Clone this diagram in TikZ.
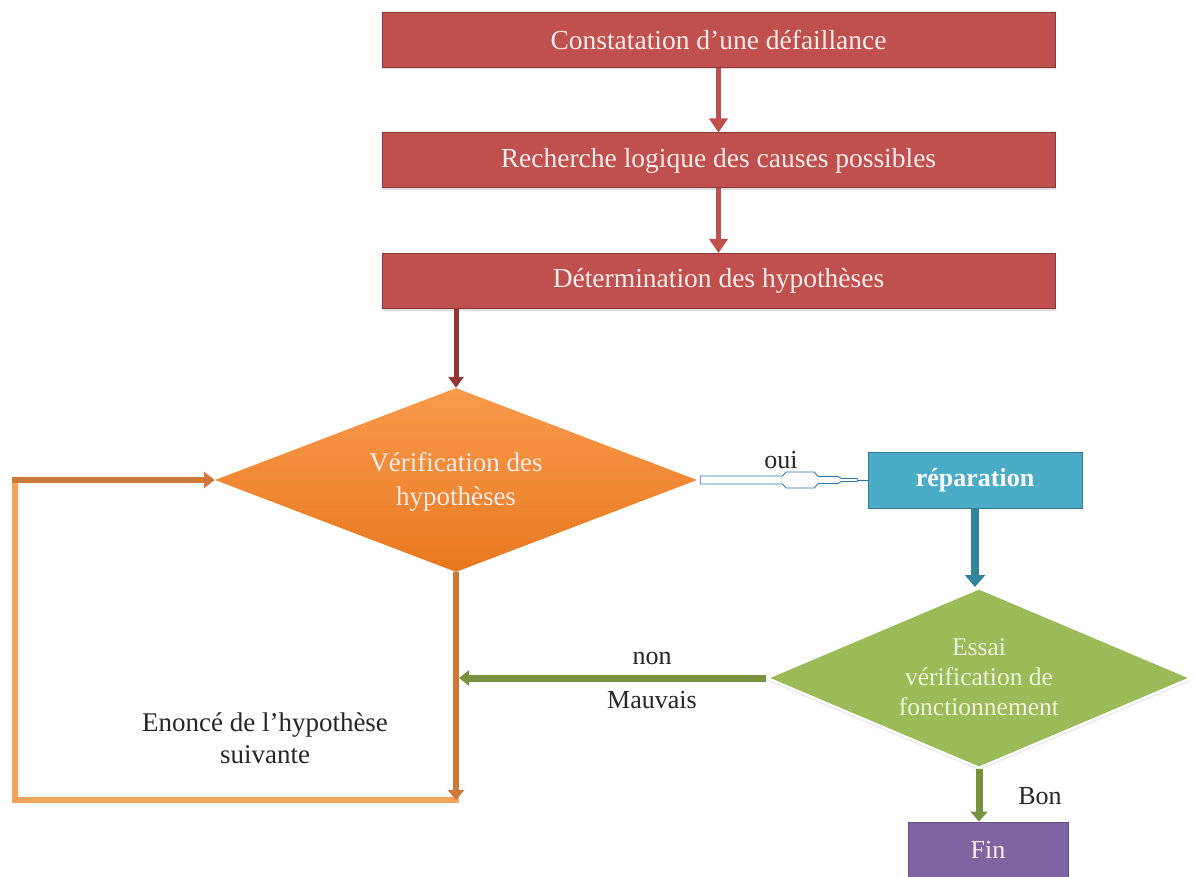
\documentclass[tikz,border=0pt]{standalone}
\usepackage{fontspec}
\setmainfont{Liberation Serif}
\usetikzlibrary{shapes.geometric,arrows.meta,calc,shadows}

\definecolor{redfill}{HTML}{C0504D}
\definecolor{redline}{HTML}{8C3836}
\definecolor{redarrow}{HTML}{C0504D}
\definecolor{darkred}{HTML}{943634}
\definecolor{orangetop}{HTML}{F99A4C}
\definecolor{orangebot}{HTML}{E8781F}
\definecolor{loopdarkc}{HTML}{CC7838}
\definecolor{looplightc}{HTML}{F2A45C}
\definecolor{greenfill}{HTML}{9BBB59}
\definecolor{greenline}{HTML}{76923C}
\definecolor{greentext}{HTML}{EEF4DC}
\definecolor{bluefill}{HTML}{4BACC6}
\definecolor{blueline}{HTML}{357D91}
\definecolor{tealarrow}{HTML}{31849B}
\definecolor{hollowblue}{HTML}{2E75B6}
\definecolor{purplefill}{HTML}{8064A2}
\definecolor{lighttext}{HTML}{FBEDEC}

\tikzset{
  redbox/.style={draw=redline, line width=1pt, fill=redfill, minimum width=673pt,
    minimum height=55pt, inner sep=0pt, text=lighttext,
    font=\fontsize{27.5}{30}\selectfont,
    drop shadow={shadow xshift=1pt, shadow yshift=-2pt, opacity=0.25}},
  redarr/.style={draw=redarrow, line width=5pt, -{Triangle[width=18pt,length=14pt]}},
  decision/.style={diamond, inner sep=0pt},
  dtext/.style={align=center, inner sep=0pt},
  label/.style={font=\fontsize{26}{30}\selectfont, text=black!85},
  loopdark/.style={draw=loopdarkc, line width=6pt},
  looplight/.style={draw=looplightc, line width=6pt},
}

\begin{document}
\begin{tikzpicture}[x=1pt,y=-1pt]
\useasboundingbox (0,0) rectangle (1196,877);

% --- top chain of red boxes
\node[redbox] (b1) at (718.5,40) {Constatation d’une défaillance};
\node[redbox] (b2) at (718.5,160.5) {Recherche logique des causes possibles};
\node[redbox] (b3) at (718.5,281) {Détermination des hypothèses};

\draw[redarr] (b1.south) -- (b2.north);
\draw[redarr] (b2.south) -- (b3.north);

% --- first decision
\node[decision, minimum width=482pt, minimum height=184pt,
  top color=orangetop, bottom color=orangebot] (d1) at (456,480) {};
\node[dtext, text=lighttext, font=\fontsize{27}{34}\selectfont] (d1t) at (456,482)
  {Vérification des\\hypothèses};

\draw[draw=darkred, line width=5pt, -{Triangle[width=15pt,length=11pt]}]
  (d1.north |- b3.south) -- (d1.north);

% --- repair box and test decision
\node[draw=blueline, line width=1pt, fill=bluefill, minimum width=214pt, minimum height=56pt,
  inner sep=0pt, text=white, font=\fontsize{26}{30}\selectfont\bfseries] (rep) at (975,480)
  {réparation};

\node[decision, minimum width=424pt, minimum height=180pt, fill=greenfill,
  draw=white, line width=2pt,
  drop shadow={shadow xshift=0pt, shadow yshift=-3pt, opacity=0.15}] (d2) at (979,678) {};
\node[dtext, text=greentext, font=\fontsize{25.5}{30}\selectfont] (d2t) at (979,677)
  {Essai\\vérification de\\fonctionnement};

\node[fill=purplefill, draw=purplefill!80!black, line width=1pt, minimum width=160pt,
  minimum height=56pt, inner sep=0pt, text=lighttext, font=\fontsize{26}{30}\selectfont]
  (fin) at (988,850) {Fin};

% --- "oui" hollow connector
\draw[draw=hollowblue, line width=0.9pt, fill=white]
  ($(d1.east)+(3,-4)$) -- ($(d1.east)+(85,-4)$) -- ($(d1.east)+(89,-8)$) --
  ($(d1.east)+(117,-8)$) -- ($(d1.east)+(121,-3.5)$) -- ($(d1.east)+(141,-3.5)$) --
  ($(d1.east)+(144,-1.5)$) -- ($(d1.east)+(160,-1.5)$) -- ($(d1.east)+(160,1.5)$) --
  ($(d1.east)+(144,1.5)$) -- ($(d1.east)+(141,3.5)$) -- ($(d1.east)+(121,3.5)$) --
  ($(d1.east)+(117,8)$) -- ($(d1.east)+(89,8)$) -- ($(d1.east)+(85,4)$) --
  ($(d1.east)+(3,4)$) -- cycle;
\draw[draw=hollowblue, line width=0.9pt] ($(d1.east)+(160,0)$) -- (rep.west);
\node[label] (oui) at (781,460) {oui};

\draw[draw=tealarrow, line width=8pt, -{Triangle[width=20pt,length=12pt]}]
  (rep.south) -- (rep.south |- d2.north);

% --- loop back to the first decision
\coordinate (lb) at (456,800);
\coordinate (ll) at (15,800);
\coordinate (lt) at (15,480);
\draw[looplight, line cap=rect] (lb) -- (ll) -- (lt);
\draw[loopdark, line cap=rect] (lt) -- ($(d1.west)+(-14,0)$);
\draw[loopdark, -{Triangle[width=16pt,length=11pt]}] (lt) -- (d1.west);
\draw[loopdark, -{Triangle[width=16pt,length=10pt]}] (d1.south) -- (lb);

\node[label, align=center, font=\fontsize{27}{32}\selectfont] (next) at (265,738)
  {Enoncé de l’hypothèse\\suivante};

% --- "non / Mauvais" branch
\draw[draw=greenline, line width=7pt, -{Triangle[width=15pt,length=10pt]}]
  (d2.west) -- ($(d2.west -| lb)+(3,0)$);
\node[label] (non) at (652,658) {non};
\node[label] (bad) at (652,700) {Mauvais};

% --- "Bon" branch
\draw[draw=greenline, line width=7pt, -{Triangle[width=17pt,length=10pt]}]
  (d2.south) -- (d2.south |- fin.north);
\node[label] (good) at (1040,796) {Bon};

\end{tikzpicture}
\end{document}
